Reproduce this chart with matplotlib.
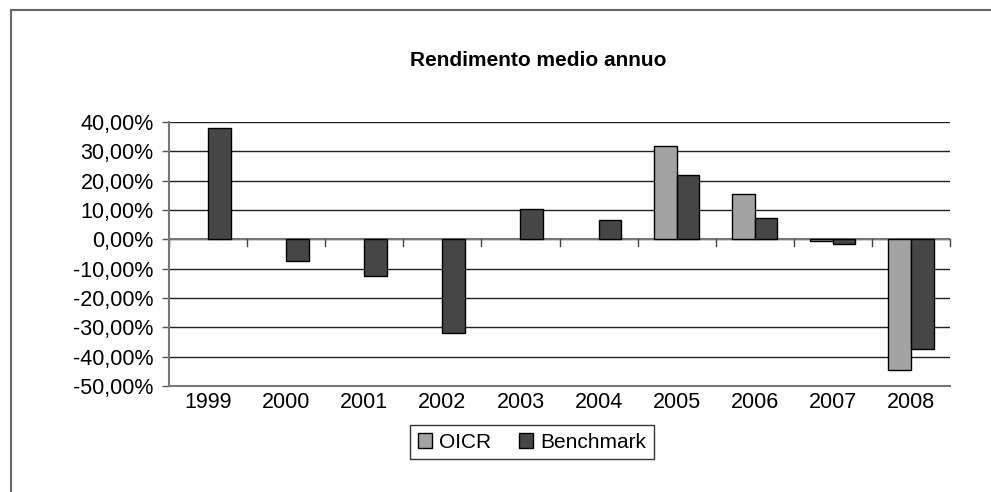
import numpy as np
import matplotlib
matplotlib.use("Agg")
import matplotlib.pyplot as plt
from matplotlib.ticker import FuncFormatter, MultipleLocator
from matplotlib.lines import Line2D

plt.rcParams['font.family'] = ['Liberation Sans', 'DejaVu Sans']

years = ["1999", "2000", "2001", "2002", "2003", "2004", "2005", "2006", "2007", "2008"]
oicr = [np.nan, np.nan, np.nan, np.nan, np.nan, np.nan, 31.7, 15.3, -0.6, -44.7]
benchmark = [38.0, -7.5, -12.5, -32.0, 10.5, 6.5, 22.0, 7.3, -1.6, -37.5]

fig = plt.figure(figsize=(9.91, 4.92), dpi=100)
ax = fig.add_axes([169 / 991, 1 - 386 / 492, (950 - 169) / 991, (386 - 122) / 492])

x = np.arange(len(years))
w = 0.29
ax.bar(x - w / 2, oicr, w, color="#a3a3a3", edgecolor="black", linewidth=1.0, label="OICR", zorder=3)
ax.bar(x + w / 2, benchmark, w, color="#464646", edgecolor="black", linewidth=1.0, label="Benchmark", zorder=3)

ax.set_xlim(-0.5, len(years) - 0.5)
ax.set_ylim(-50, 40)
ax.yaxis.set_major_locator(MultipleLocator(10))
ax.yaxis.set_major_formatter(FuncFormatter(lambda v, p: "{0:.2f}%".format(v).replace(".", ",")))
ax.grid(axis="y", color="#222222", linewidth=1.0, zorder=0)

# category labels at the bottom, no ticks there
ax.set_xticks(x)
ax.set_xticklabels(years)
ax.tick_params(axis="x", length=0, pad=4, labelsize=15.5)
ax.tick_params(axis="y", length=5, width=1.0, color="#555555", labelsize=15.5, pad=6)

for s in ["top", "right"]:
    ax.spines[s].set_visible(False)
ax.spines["left"].set_color("#777777")
ax.spines["left"].set_linewidth(1.5)
ax.spines["bottom"].set_color("#777777")
ax.spines["bottom"].set_linewidth(1.5)

# zero line with category boundary ticks
ax.axhline(0, color="#777777", linewidth=1.5, zorder=2)
for b in np.arange(-0.5, len(years), 1.0):
    ax.plot([b, b], [0, -2.2], color="#444444", linewidth=1.0, zorder=2, clip_on=False)

fig.text(538 / 991, 1 - 60 / 492, "Rendimento medio annuo", ha="center", va="center",
         fontsize=15, fontweight="bold")

leg = ax.legend(loc="center", bbox_to_anchor=(532 / 991, 1 - 442 / 492),
                bbox_transform=fig.transFigure, ncol=2, frameon=True, fancybox=False,
                fontsize=15, handlelength=0.7, handleheight=0.7, handletextpad=0.35,
                columnspacing=1.3, borderpad=0.35, edgecolor="black")
leg.get_frame().set_linewidth(1.0)

# outer frame: only top and left edges visible
fig.add_artist(Line2D([11 / 991, 1], [1 - 10 / 492, 1 - 10 / 492], transform=fig.transFigure,
                      color="#666666", linewidth=1.5))
fig.add_artist(Line2D([11 / 991, 11 / 991], [0, 1 - 10 / 492], transform=fig.transFigure,
                      color="#666666", linewidth=1.5))

fig.savefig("out.png", dpi=100)
